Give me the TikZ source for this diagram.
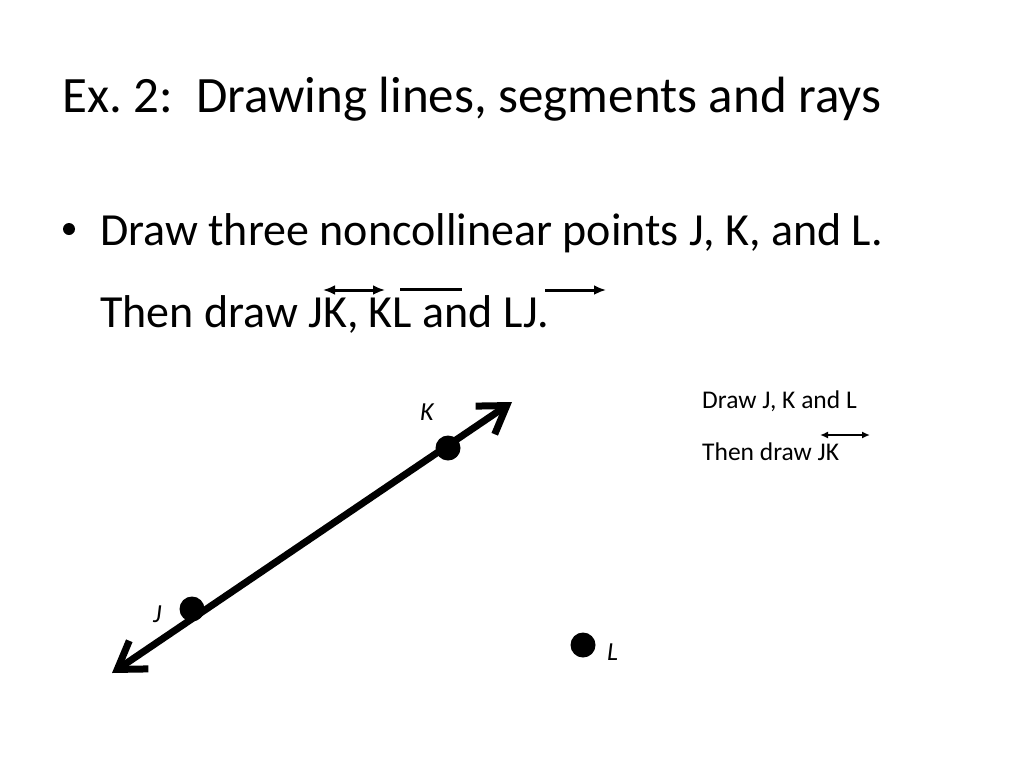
\documentclass[tikz,border=0pt]{standalone}
\usepackage{fontspec}
\setmainfont{Carlito}
\usetikzlibrary{arrows.meta,positioning}
\frenchspacing

\begin{document}
\begin{tikzpicture}[x=1pt,y=-1pt,
    every node/.style={inner sep=0pt,anchor=base west},
    titletext/.style={font=\fontsize{51}{60}\selectfont},
    bodytext/.style={font=\fontsize{46}{55}\selectfont},
    notetext/.style={font=\fontsize{25.5}{30}\selectfont},
    ptlabel/.style={font=\fontsize{26}{30}\selectfont\itshape},
    dot/.style={circle,fill=black,minimum size=25pt,anchor=center},
    overbar/.style={line width=3pt},
    smalltip/.tip={Latex[length=12pt,width=10pt]},
    notetip/.tip={Latex[length=8pt,width=7pt]},
    bigbarb/.tip={Straight Barb[length=26pt,width=34pt]}]
  \useasboundingbox (0,0) rectangle (1024,768);
  % Title
  \node[titletext] (title) at (62,112) {Ex. 2:\ \ Drawing lines, segments and rays};
  % Bullet text
  \node[circle,fill=black,minimum size=12pt,anchor=center] (bullet) at (69,229) {};
  \node[bodytext] (line1) at (100,245) {Draw three noncollinear points J, K, and L.};
  \node[bodytext] (line2) at (100,327) {Then draw JK, KL and LJ.};
  % Symbols over the names
  \draw[overbar,smalltip-smalltip] (323,290) -- (385,290);
  \draw[overbar] (400,289) -- (462,289);
  \draw[overbar,-smalltip] (545,290) -- (606,290);
  % Side note
  \node[notetext] (note1) at (702,408) {Draw J, K and L};
  \node[notetext] (note2) at (702,460) {Then draw JK};
  \draw[line width=2.5pt,notetip-notetip] (820,435) -- (870,435);
  % Line through J and K
  \coordinate (lowend) at (112,673);
  \coordinate (highend) at (512,402);
  \draw[line width=7pt,bigbarb-bigbarb] (lowend) -- (highend);
  % Points
  \node[dot] (J) at (192,609) {};
  \node[dot] (K) at (448,448) {};
  \node[dot] (L) at (583,645) {};
  \node[ptlabel] (Jlab) at (153,622) {J};
  \node[ptlabel] (Klab) at (420,420) {K};
  \node[ptlabel] (Llab) at (607,660) {L};
\end{tikzpicture}
\end{document}
